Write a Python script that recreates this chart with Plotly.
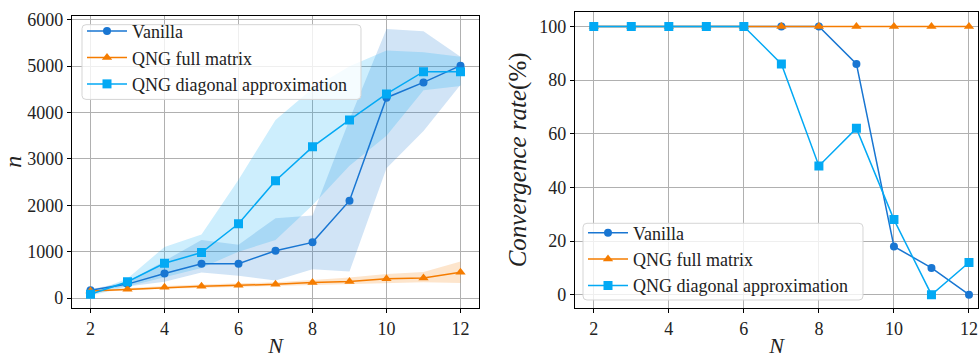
import plotly.graph_objects as go

N = [2, 3, 4, 5, 6, 7, 8, 9, 10, 11, 12]

# Left panel: iterations n (mean and band)
vanilla_n = [170, 300, 530, 740, 740, 1020, 1200, 2100, 4320, 4650, 5010]
vanilla_lo = [150, 250, 350, 550, 480, 380, 620, 570, 2800, 3600, 4600]
vanilla_hi = [190, 350, 800, 1250, 1150, 1720, 1780, 3850, 5800, 5750, 5200]

full_n = [150, 190, 230, 255, 275, 295, 335, 355, 415, 430, 555]
full_lo = [130, 160, 200, 220, 240, 250, 280, 290, 320, 340, 325]
full_hi = [170, 220, 260, 290, 310, 340, 390, 440, 520, 560, 785]

diag_n = [80, 350, 750, 980, 1600, 2530, 3260, 3840, 4400, 4880, 4880]
diag_lo = [50, 250, 450, 650, 1000, 1250, 2000, 2850, 3500, 4480, 4570]
diag_hi = [110, 420, 1100, 1370, 2550, 3840, 4520, 5000, 5340, 5300, 5200]

# Right panel: convergence rate (%)
vanilla_rate = [100, 100, 100, 100, 100, 100, 100, 86, 18, 10, 0]
full_rate = [100, 100, 100, 100, 100, 100, 100, 100, 100, 100, 100]
diag_rate = [100, 100, 100, 100, 100, 86, 48, 62, 28, 0, 12]

names = ["Vanilla", "QNG full matrix", "QNG diagonal approximation"]
colors = ["#1976D2", "#F57C00", "#03A9F4"]
bands = ["rgba(25,118,210,0.2)", "rgba(245,124,0,0.2)", "rgba(3,169,244,0.2)"]
symbols = ["circle", "triangle-up", "square"]

FONT = "Liberation Serif"
W, H = 979, 358

fig = go.Figure()

# bands (left)
for lo, hi, fc in [(vanilla_lo, vanilla_hi, bands[0]), (full_lo, full_hi, bands[1]), (diag_lo, diag_hi, bands[2])]:
    fig.add_trace(go.Scatter(x=N + N[::-1], y=hi + lo[::-1], fill="toself", fillcolor=fc,
                             line=dict(width=0), mode="lines", hoverinfo="skip",
                             showlegend=False, xaxis="x", yaxis="y"))

for ys, nm, c, s in zip([vanilla_n, full_n, diag_n], names, colors, symbols):
    fig.add_trace(go.Scatter(x=N, y=ys, name=nm, mode="lines+markers",
                             line=dict(color=c, width=1.5),
                             marker=dict(symbol=s, size=9 if s != "circle" else 8, color=c),
                             xaxis="x", yaxis="y", legend="legend"))

for ys, nm, c, s in zip([vanilla_rate, full_rate, diag_rate], names, colors, symbols):
    fig.add_trace(go.Scatter(x=N, y=ys, name=nm, mode="lines+markers",
                             line=dict(color=c, width=1.5),
                             marker=dict(symbol=s, size=9 if s != "circle" else 8, color=c),
                             xaxis="x2", yaxis="y2", legend="legend2"))

axis_common = dict(showline=True, linecolor="black", linewidth=1.2, mirror=True,
                   ticks="outside", ticklen=4, tickcolor="black",
                   showgrid=True, gridcolor="#b0b0b0", gridwidth=1, zeroline=False,
                   tickfont=dict(family=FONT, size=18, color="#222"))

xl0, xl1 = 72 / W, 479 / W
xr0, xr1 = 575 / W, 978 / W


def box_path(x0, y0, x1, y1, r=4):
    # pixel coords -> paper path with rounded corners
    def p(x, y):
        return f"{x / W:.5f},{1 - y / H:.5f}"
    return (f"M{p(x0 + r, y0)} L{p(x1 - r, y0)} Q{p(x1, y0)} {p(x1, y0 + r)} "
            f"L{p(x1, y1 - r)} Q{p(x1, y1)} {p(x1 - r, y1)} L{p(x0 + r, y1)} "
            f"Q{p(x0, y1)} {p(x0, y1 - r)} L{p(x0, y0 + r)} Q{p(x0, y0)} {p(x0 + r, y0)} Z")


shapes = [
    dict(type="path", xref="paper", yref="paper", path=box_path(82, 19, 361, 95),
         fillcolor="rgba(255,255,255,0.8)", line=dict(color="#d5d5d5", width=1), layer="above"),
    dict(type="path", xref="paper", yref="paper", path=box_path(583, 221, 863, 299),
         fillcolor="rgba(255,255,255,0.8)", line=dict(color="#d5d5d5", width=1), layer="above"),
]

fig.update_layout(
    width=W, height=H,
    margin=dict(l=0, r=0, t=0, b=0),
    paper_bgcolor="white", plot_bgcolor="white",
    font=dict(family=FONT, size=17, color="#222"),
    shapes=shapes,
    xaxis=dict(domain=[xl0, xl1], range=[1.5, 12.5], tickvals=[2, 4, 6, 8, 10, 12],
               title=dict(text="<i>N</i>", font=dict(size=22), standoff=2), anchor="y", **axis_common),
    yaxis=dict(domain=[1 - 307 / H, 1 - 10 / H], range=[-212, 6085], tickvals=[0, 1000, 2000, 3000, 4000, 5000, 6000],
               title=dict(text="<i>n</i>", font=dict(size=24), standoff=6), anchor="x", **axis_common),
    xaxis2=dict(domain=[xr0, xr1], range=[1.5, 12.24], tickvals=[2, 4, 6, 8, 10, 12],
                title=dict(text="<i>N</i>", font=dict(size=22), standoff=2), anchor="y2", **axis_common),
    yaxis2=dict(domain=[1 - 307 / H, 1 - 6 / H], range=[-4.9, 105.4], tickvals=[0, 20, 40, 60, 80, 100],
                title=dict(text="<i>Convergence rate</i>(%)", font=dict(size=25), standoff=5), anchor="x2", **axis_common),
    legend=dict(x=82 / W, y=1 - 7 / H, xanchor="left", yanchor="top",
                bgcolor="rgba(0,0,0,0)", borderwidth=0,
                font=dict(family=FONT, size=18), tracegroupgap=0, itemwidth=40),
    legend2=dict(x=583 / W, y=1 - 212 / H, xanchor="left", yanchor="top",
                 bgcolor="rgba(0,0,0,0)", borderwidth=0,
                 font=dict(family=FONT, size=18), tracegroupgap=0, itemwidth=40),
)

fig.write_html("out.html")
